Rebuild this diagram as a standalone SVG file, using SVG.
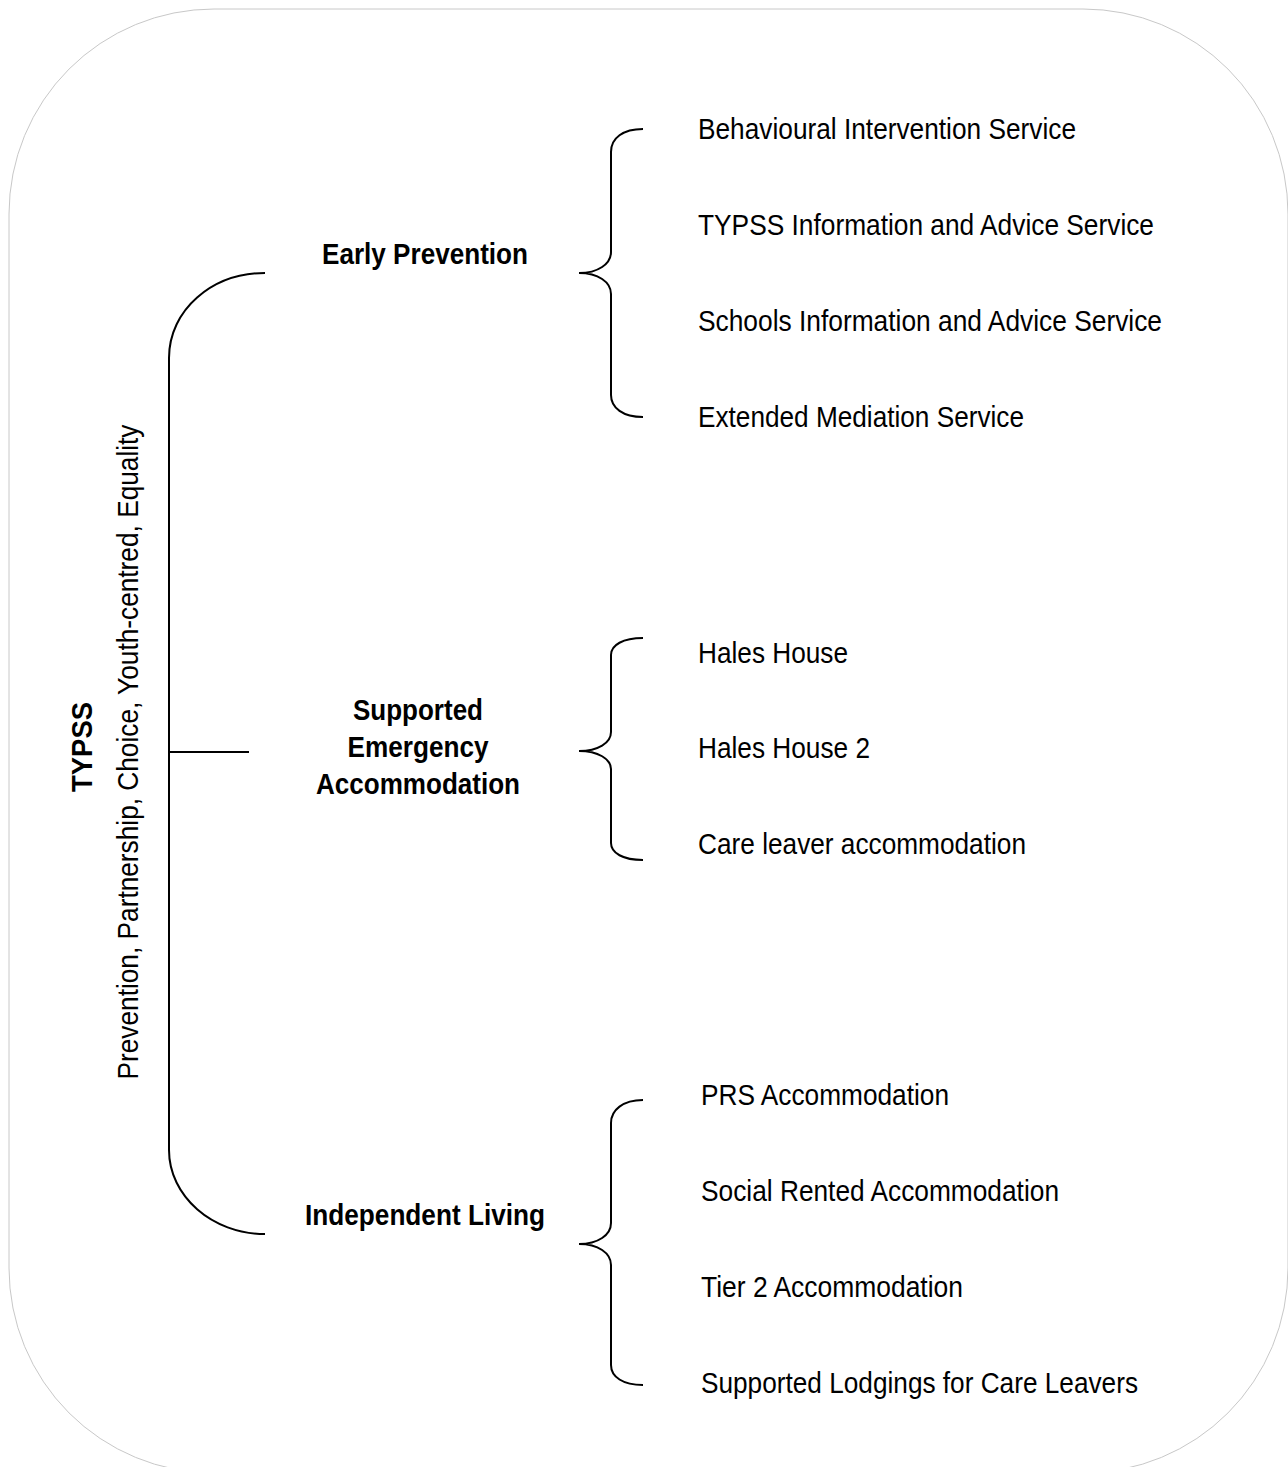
<svg xmlns="http://www.w3.org/2000/svg" width="1288" height="1467" viewBox="0 0 1288 1467">
<style>
.t{font-family:"Liberation Sans",Arial,sans-serif;font-size:30px;fill:#000}
.b{font-weight:bold}
.ln{fill:none;stroke:#000;stroke-width:2}
</style>
<rect x="9" y="9" width="1279" height="1464" rx="205" ry="205" fill="#fff" stroke="#c8c8c8" stroke-width="1"/>
<g id="connectors">
<path class="ln" d="M265,273 C212,273 169,310 169,358 L169,1150 C169,1196 212,1234 265,1234"/>
<path class="ln" d="M169,752 L249,752"/>
<path class="ln" d="M643,129 C623,129 611,138 611,152 L611,252 C611,264 598,273 579,273 C598,273 611,282 611,294 L611,395 C611,408 623,417 643,417"/>
<path class="ln" d="M643,638 C623,638 611,645 611,655 L611,732 C611,743 598,751 579,751 C598,751 611,759 611,769 L611,843 C611,853 623,860 643,860"/>
<path class="ln" d="M643,1100 C623,1100 611,1110 611,1123 L611,1223 C611,1235 598,1244 579,1244 C598,1244 611,1253 611,1265 L611,1365 C611,1377 623,1385 643,1385"/>
</g>
<g id="root">
<text class="t b" transform="translate(92,747) rotate(-90)" text-anchor="middle" textLength="90" lengthAdjust="spacingAndGlyphs">TYPSS</text>
<text class="t" transform="translate(138,752) rotate(-90)" text-anchor="middle" textLength="655" lengthAdjust="spacingAndGlyphs">Prevention, Partnership, Choice, Youth-centred, Equality</text>
</g>
<g id="early-prevention"><text class="t b" x="425" y="264" text-anchor="middle" textLength="206" lengthAdjust="spacingAndGlyphs">Early Prevention</text></g>
<g id="supported-emergency">
<text class="t b" x="418" y="720" text-anchor="middle" textLength="130" lengthAdjust="spacingAndGlyphs">Supported</text>
<text class="t b" x="418" y="757" text-anchor="middle" textLength="141" lengthAdjust="spacingAndGlyphs">Emergency</text>
<text class="t b" x="418" y="794" text-anchor="middle" textLength="204" lengthAdjust="spacingAndGlyphs">Accommodation</text>
</g>
<g id="independent-living"><text class="t b" x="425" y="1225" text-anchor="middle" textLength="240" lengthAdjust="spacingAndGlyphs">Independent Living</text></g>
<g id="ep-items">
<text class="t" x="698" y="139" textLength="378" lengthAdjust="spacingAndGlyphs">Behavioural Intervention Service</text>
<text class="t" x="698" y="235" textLength="456" lengthAdjust="spacingAndGlyphs">TYPSS Information and Advice Service</text>
<text class="t" x="698" y="331" textLength="464" lengthAdjust="spacingAndGlyphs">Schools Information and Advice Service</text>
<text class="t" x="698" y="427" textLength="326" lengthAdjust="spacingAndGlyphs">Extended Mediation Service</text>
</g>
<g id="sea-items">
<text class="t" x="698" y="663" textLength="150" lengthAdjust="spacingAndGlyphs">Hales House</text>
<text class="t" x="698" y="758" textLength="172" lengthAdjust="spacingAndGlyphs">Hales House 2</text>
<text class="t" x="698" y="854" textLength="328" lengthAdjust="spacingAndGlyphs">Care leaver accommodation</text>
</g>
<g id="il-items">
<text class="t" x="701" y="1105" textLength="248" lengthAdjust="spacingAndGlyphs">PRS Accommodation</text>
<text class="t" x="701" y="1201" textLength="358" lengthAdjust="spacingAndGlyphs">Social Rented Accommodation</text>
<text class="t" x="701" y="1297" textLength="262" lengthAdjust="spacingAndGlyphs">Tier 2 Accommodation</text>
<text class="t" x="701" y="1393" textLength="437" lengthAdjust="spacingAndGlyphs">Supported Lodgings for Care Leavers</text>
</g>
</svg>
